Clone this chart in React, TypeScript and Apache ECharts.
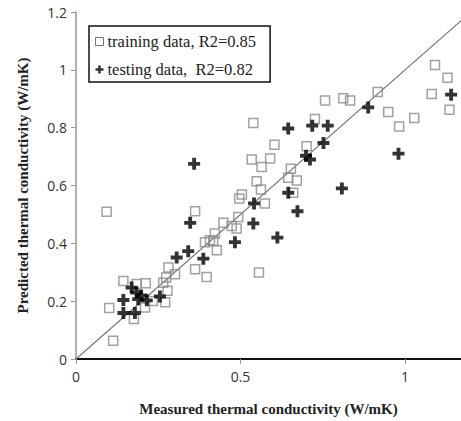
import React, { useEffect, useRef } from "react";
import * as echarts from "echarts";

const trainX = [0.113, 0.101, 0.093, 0.144, 0.184, 0.212, 0.176, 0.210, 0.233, 0.271, 0.278, 0.265, 0.274, 0.281, 0.301, 0.362, 0.397, 0.428, 0.392, 0.407, 0.417, 0.422, 0.448, 0.473, 0.488, 0.493, 0.496, 0.504, 0.362, 0.556, 0.574, 0.549, 0.562, 0.534, 0.564, 0.590, 0.539, 0.603, 0.653, 0.645, 0.671, 0.660, 0.701, 0.726, 0.757, 0.812, 0.833, 0.917, 0.949, 0.982, 1.028, 1.081, 1.091, 1.129, 1.135];
const trainY = [0.063, 0.176, 0.509, 0.270, 0.259, 0.262, 0.138, 0.178, 0.201, 0.196, 0.236, 0.264, 0.282, 0.316, 0.293, 0.310, 0.284, 0.376, 0.404, 0.411, 0.408, 0.434, 0.471, 0.460, 0.451, 0.491, 0.555, 0.569, 0.511, 0.299, 0.538, 0.615, 0.586, 0.690, 0.664, 0.693, 0.816, 0.741, 0.658, 0.627, 0.617, 0.575, 0.736, 0.830, 0.894, 0.902, 0.894, 0.923, 0.854, 0.804, 0.833, 0.916, 1.017, 0.973, 0.862];

const testX = [0.144, 0.144, 0.179, 0.169, 0.184, 0.189, 0.215, 0.255, 0.306, 0.341, 0.387, 0.359, 0.347, 0.483, 0.541, 0.539, 0.612, 0.645, 0.673, 0.645, 0.718, 0.765, 0.752, 0.699, 0.711, 0.808, 0.888, 0.980, 1.140, 0.198];
const testY = [0.204, 0.159, 0.159, 0.247, 0.230, 0.207, 0.203, 0.216, 0.351, 0.373, 0.347, 0.675, 0.471, 0.404, 0.538, 0.469, 0.420, 0.575, 0.511, 0.797, 0.807, 0.807, 0.747, 0.703, 0.690, 0.590, 0.870, 0.710, 0.914, 0.220];

const lineX = [0, 1.2];
const xTicks = [0, 0.5, 1];

const trainName = "training data, R2=0.85";
const testName = "testing data,  R2=0.82";

const CROSS = "path://M3.4,0H6.6V3.4H10V6.6H6.6V10H3.4V6.6H0V3.4H3.4Z";

export default function App() {
  const ref = useRef<HTMLDivElement>(null);
  useEffect(() => {
    if (!ref.current) return;
    const chart = echarts.init(ref.current, undefined, { renderer: "svg" });
    const axisFont = { fontFamily: "Open Sans", fontSize: 14, color: "#333" };
    const nameFont = { fontFamily: "Liberation Serif", fontSize: 15, fontWeight: "bold" as const, color: "#222" };
    chart.setOption({
      animation: false,
      backgroundColor: "#fff",
      grid: { left: 76, top: 12, right: 0, bottom: 61, containLabel: false },
      legend: {
        orient: "vertical",
        left: 89,
        top: 26,
        padding: [7, 14, 4, 6],
        itemGap: 11,
        itemWidth: 8,
        itemHeight: 8,
        borderColor: "#111",
        borderWidth: 1.5,
        backgroundColor: "#fff",
        textStyle: { fontFamily: "Liberation Serif", fontSize: 16.5, color: "#222", padding: [0, 0, 0, -1] },
        data: [
          { name: trainName, icon: "rect", itemStyle: { color: "#fff", borderColor: "#555", borderWidth: 1 } },
          { name: testName, icon: CROSS, itemStyle: { color: "#000", borderWidth: 0 } },
        ],
      },
      xAxis: [
        {
          type: "value",
          min: 0,
          max: 1.17,
          interval: 0.5,
          position: "bottom",
          name: "Measured thermal conductivity (W/mK)",
          nameLocation: "middle",
          nameGap: 42,
          nameTextStyle: nameFont,
          axisLine: { show: true, onZero: false, lineStyle: { color: "#999", width: 1.5 } },
          axisTick: { show: true, length: 5, customValues: xTicks, lineStyle: { color: "#999" } },
          axisLabel: { ...axisFont, margin: 10, customValues: xTicks, formatter: (v: number) => String(v) },
          splitLine: { show: false },
        },
        {
          type: "value",
          min: 0,
          max: 1.17,
          position: "top",
          axisLine: { show: true, lineStyle: { color: "#111", width: 2 } },
          axisTick: { show: false },
          axisLabel: { show: false },
          splitLine: { show: false },
        },
      ],
      yAxis: {
        type: "value",
        min: 0,
        max: 1.2,
        interval: 0.2,
        name: "Predicted thermal conductivity (W/mK)",
        nameLocation: "middle",
        nameGap: 46,
        nameTextStyle: nameFont,
        axisLine: { show: true, onZero: false, lineStyle: { color: "#999", width: 1.5 } },
        axisTick: { show: true, length: 5, lineStyle: { color: "#999" } },
        axisLabel: { ...axisFont, margin: 9 },
        splitLine: { show: false },
      },
      series: [
        {
          type: "line",
          data: lineX.map((v) => [v, v]),
          showSymbol: false,
          symbol: "none",
          lineStyle: { color: "#777", width: 1.2 },
          silent: true,
          z: 1,
        },
        {
          name: trainName,
          type: "scatter",
          data: trainX.map((x, i) => [x, trainY[i]]),
          symbol: "rect",
          symbolSize: 9,
          itemStyle: { color: "transparent", borderColor: "#8a8a8a", borderWidth: 1.5 },
          z: 2,
        },
        {
          name: testName,
          type: "scatter",
          data: testX.map((x, i) => [x, testY[i]]),
          symbol: CROSS,
          symbolSize: 12,
          itemStyle: { color: "#000" },
          z: 3,
        },
      ],
    });
    return () => chart.dispose();
  }, []);
  return <div ref={ref} style={{ position: "fixed", left: 0, top: 0, width: 461, height: 421 }} />;
}
